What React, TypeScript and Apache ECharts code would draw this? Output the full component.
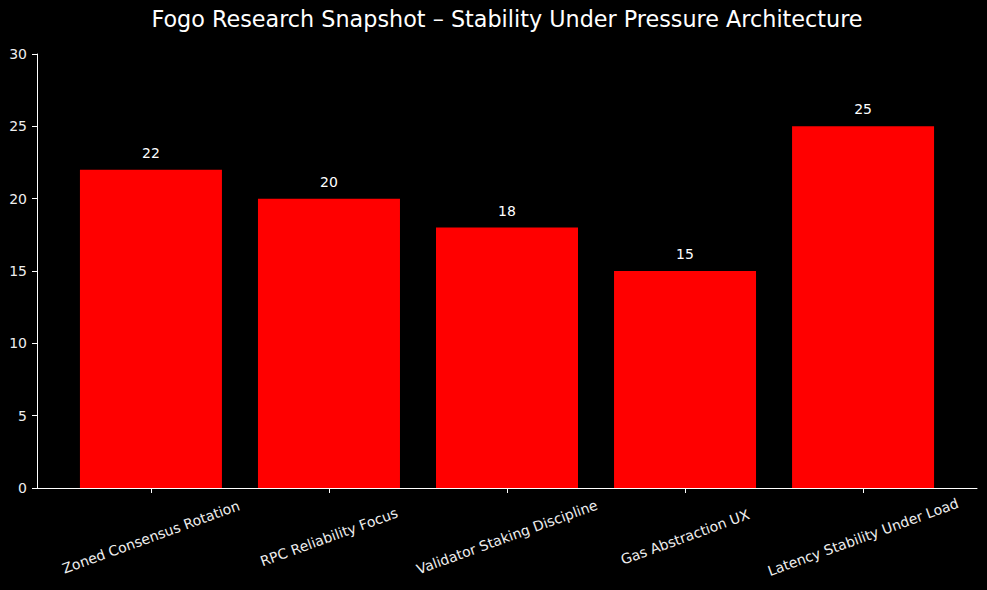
import React, { useEffect, useRef } from "react";
import * as echarts from "echarts";

const categories = [
  "Zoned Consensus Rotation",
  "RPC Reliability Focus",
  "Validator Staking Discipline",
  "Gas Abstraction UX",
  "Latency Stability Under Load",
];
const values = [22, 20, 18, 15, 25];
const yTicks = { min: 0, max: 30, interval: 5 };
const titleText = "Fogo Research Snapshot – Stability Under Pressure Architecture";

export default function App() {
  const ref = useRef<HTMLDivElement>(null);
  useEffect(() => {
    document.body.style.margin = "0";
    document.body.style.background = "#000000";
    if (!ref.current) return;
    const chart = echarts.init(ref.current, null, { renderer: "svg" });
    const font = "DejaVu Sans";
    const positions = categories.map((_, i) => i);
    chart.setOption({
      animation: false,
      backgroundColor: "#000000",
      textStyle: { fontFamily: font },
      graphic: [
        {
          type: "text",
          x: 507,
          y: 19,
          style: {
            text: titleText,
            fill: "#ffffff",
            font: `22.3px ${font}`,
            textAlign: "center",
            textVerticalAlign: "middle",
          },
        },
      ],
      grid: { left: 37, right: 10, top: 54, bottom: 102, containLabel: false },
      xAxis: {
        type: "value",
        min: -0.64,
        max: 4.64,
        splitLine: { show: false },
        axisLine: { show: true, onZero: false, lineStyle: { color: "#ffffff", width: 1 } },
        axisTick: {
          show: true,
          customValues: positions,
          length: 5,
          lineStyle: { color: "#ffffff" },
        },
        axisLabel: {
          show: true,
          customValues: positions,
          formatter: (v: number) => categories[Math.round(v)] ?? "",
          rotate: 20,
          align: "center",
          verticalAlign: "middle",
          margin: 49,
          color: "#eeeeee",
          fontSize: 14,
          fontFamily: font,
        },
      },
      yAxis: {
        type: "value",
        min: yTicks.min,
        max: yTicks.max,
        interval: yTicks.interval,
        splitLine: { show: false },
        axisLine: { show: true, onZero: false, lineStyle: { color: "#ffffff", width: 1 } },
        axisTick: { show: true, length: 5, lineStyle: { color: "#ffffff" } },
        axisLabel: { color: "#eeeeee", fontSize: 14, margin: 10, fontFamily: font },
      },
      series: [
        {
          type: "bar",
          data: values.map((v, i) => [i, v]),
          barWidth: 142,
          itemStyle: { color: "#ff0000" },
          label: {
            show: true,
            position: "top",
            distance: 10,
            color: "#ffffff",
            fontSize: 14,
            fontFamily: font,
            formatter: (p: any) => String(p.value[1]),
          },
        },
      ],
    });
    return () => chart.dispose();
  }, []);
  return <div ref={ref} style={{ width: 987, height: 590 }} />;
}
